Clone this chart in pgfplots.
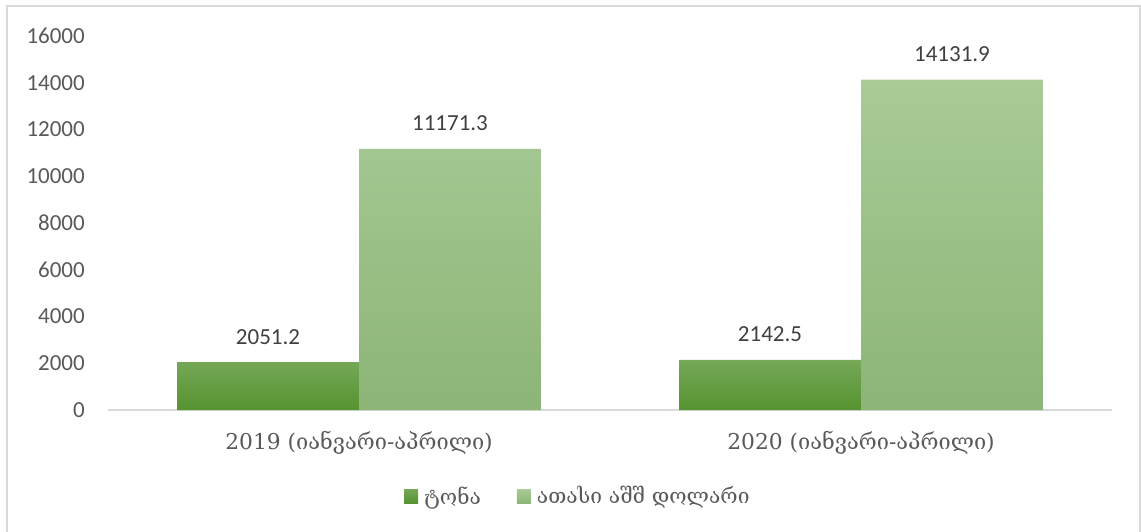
\documentclass[border=0pt]{standalone}
\usepackage{fontspec}
\setmainfont{Carlito}
\newfontfamily\geo{DejaVu Serif}
\usepackage{pgfplots}
\pgfplotsset{compat=1.18}
\definecolor{darkA}{HTML}{76A858}
\definecolor{darkB}{HTML}{569330}
\definecolor{liteA}{HTML}{A9CB97}
\definecolor{liteB}{HTML}{8DB577}
\definecolor{ticktext}{HTML}{595959}
\definecolor{labeltext}{HTML}{404040}
\definecolor{rule}{HTML}{D9D9D9}

\begin{document}
\begin{tikzpicture}[x=1pt,y=1pt]
  % whole picture box and outer frame
  \useasboundingbox (-108,-121) rectangle (1033,410);
  \draw[rule, line width=1.5pt] (-101,-122) -- (-101,404) -- (1032,404) -- (1032,-122);
  \begin{axis}[
      at={(0,0)}, anchor=south west,
      scale only axis,
      width=1004pt, height=374pt,
      xmin=-0.5, xmax=1.5,
      ymin=0, ymax=16000,
      ybar=0pt, bar width=0.3625,
      xtick={0,1},
      xticklabels={{\geo 2019 (იანვარი-აპრილი)},{\geo 2020 (იანვარი-აპრილი)}},
      ytick={0,2000,...,16000},
      scaled y ticks=false,
      /pgf/number format/1000 sep={},
      /pgf/number format/assume math mode=true,
      major tick length=0pt,
      axis line style={draw=none},
      tick label style={font=\fontsize{23}{27}\selectfont, text=ticktext},
      yticklabel style={anchor=east, inner sep=0pt, xshift=-23pt},
      xticklabel style={anchor=base, inner sep=0pt, yshift=-39pt, font=\fontsize{21.8}{26}\selectfont},
      nodes near coords,
      nodes near coords style={font=\fontsize{23}{27}\selectfont, text=labeltext,
        anchor=base, inner sep=0pt, yshift=18pt,
        /pgf/number format/.cd, fixed, precision=1, fixed zerofill, 1000 sep={}},
      legend columns=2,
      legend style={at={(0.467,-0.23)}, anchor=center, draw=none, fill=none,
        font=\geo\fontsize{21}{25}\selectfont, text=ticktext,
        inner sep=0pt, nodes={inner sep=0pt},
        /tikz/every odd column/.append style={column sep=6pt},
        /tikz/every even column/.append style={column sep=36pt}},
    ]
    \draw[rule, line width=1.5pt] (rel axis cs:0,0) -- (rel axis cs:1,0);
    \addplot[draw=none, top color=darkA, bottom color=darkB,
      legend image code/.code={\fill[top color=darkA, bottom color=darkB] (0pt,-7pt) rectangle (14pt,7pt);}]
      coordinates {(0,2051.2) (1,2142.5)};
    \addplot[draw=none, top color=liteA, bottom color=liteB,
      legend image code/.code={\fill[top color=liteA, bottom color=liteB] (0pt,-7pt) rectangle (14pt,7pt);}]
      coordinates {(0,11171.3) (1,14131.9)};
    \legend{ტონა, ათასი აშშ დოლარი}
  \end{axis}
\end{tikzpicture}
\end{document}
